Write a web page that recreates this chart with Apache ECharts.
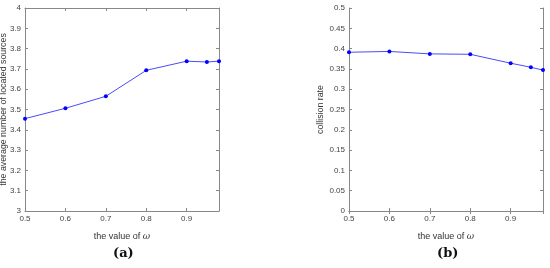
<!DOCTYPE html>
<html>
<head>
  <meta charset="UTF-8">
  <title>omega</title>
  <script src="https://cdn.jsdelivr.net/npm/echarts@6/dist/echarts.min.js"></script>
</head>
<style type="text/css">
    html,body {padding: 0; margin: 0; background: #fff;}
    #chart {width: 550px; height: 268px;}
</style>
<body>
  <div id="chart"></div>
  <script type="text/javascript">
    // data
    var omega = [0.5, 0.6, 0.7, 0.8, 0.9, 0.95, 0.98];
    var avgSources = [3.455, 3.506, 3.565, 3.693, 3.738, 3.734, 3.738];
    var collisionRate = [0.391, 0.393, 0.387, 0.386, 0.364, 0.354, 0.347];
    var xTicks = [0.5, 0.6, 0.7, 0.8, 0.9];

    var lineColor = '#4a4aff';
    var txt = '#444';
    var font = 'Liberation Sans';

    function pairs(xs, ys) {
      return xs.map(function (x, i) { return [x, ys[i]]; });
    }

    function xAx(grid, top) {
      return {
        type: 'value', gridIndex: grid, position: top ? 'top' : 'bottom',
        min: 0.5, max: 0.98, interval: 0.1,
        name: top ? '' : '{t|the value of }{w|ω}', nameLocation: 'middle', nameGap: 21,
        nameMoveOverlap: false,
        nameTextStyle: {rich: {
          t: {fontFamily: font, fontSize: 9, color: '#333'},
          w: {fontFamily: 'DejaVu Serif', fontStyle: 'italic', fontSize: 9, color: '#333'}
        }},
        axisLine: {show: true, lineStyle: {color: '#888', width: 1}},
        axisTick: {show: true, inside: true, length: 3, lineStyle: {color: '#888'}},
        axisLabel: {show: !top, showMaxLabel: false, fontFamily: font, fontSize: 8, color: txt, margin: 4,
          formatter: function (v) { return xTicks.indexOf(Math.round(v * 10) / 10) >= 0 ? (Math.round(v * 10) / 10).toString() : ''; }},
        splitLine: {show: false}
      };
    }

    function yAx(grid, right, min, max, step, name, gap) {
      return {
        type: 'value', gridIndex: grid, position: right ? 'right' : 'left',
        min: min, max: max, interval: step,
        name: right ? '' : name, nameLocation: 'middle', nameGap: gap,
        nameMoveOverlap: false,
        nameTextStyle: {fontFamily: font, fontSize: 8.8, color: '#333'},
        axisLine: {show: true, lineStyle: {color: '#888', width: 1}},
        axisTick: {show: true, inside: true, length: 3, lineStyle: {color: '#888'}},
        axisLabel: {show: !right, fontFamily: font, fontSize: 8, color: txt, margin: 4,
          formatter: function (v) { return parseFloat(v.toFixed(2)).toString(); }},
        splitLine: {show: false}
      };
    }

    var option = {
      animation: false,
      title: [
        {text: '(a)', left: 108, top: 242, textStyle: {fontFamily: 'DejaVu Serif', fontWeight: 'bold', fontSize: 13, color: '#111'}},
        {text: '(b)', left: 432, top: 242, textStyle: {fontFamily: 'DejaVu Serif', fontWeight: 'bold', fontSize: 13, color: '#111'}}
      ],
      grid: [
        {left: 25, width: 194, top: 8, height: 203, containLabel: false, outerBoundsMode: 'none'},
        {left: 349, width: 194, top: 8, height: 203, containLabel: false, outerBoundsMode: 'none'}
      ],
      xAxis: [xAx(0, false), xAx(0, true), xAx(1, false), xAx(1, true)],
      yAxis: [
        yAx(0, false, 3, 4, 0.1, 'the average number of located sources', 17),
        yAx(0, true, 3, 4, 0.1, '', 0),
        yAx(1, false, 0, 0.5, 0.05, 'collision rate', 24),
        yAx(1, true, 0, 0.5, 0.05, '', 0)
      ],
      series: [
        {type: 'line', xAxisIndex: 0, yAxisIndex: 0, data: pairs(omega, avgSources),
          symbol: 'circle', symbolSize: 4, itemStyle: {color: '#0000ff'}, lineStyle: {color: lineColor, width: 1}},
        {type: 'line', xAxisIndex: 2, yAxisIndex: 2, data: pairs(omega, collisionRate),
          symbol: 'circle', symbolSize: 4, itemStyle: {color: '#0000ff'}, lineStyle: {color: lineColor, width: 1}}
      ]
    };

    var myChart = echarts.init(document.getElementById('chart'));
    myChart.setOption(option, true);
  </script>
</body>
</html>
